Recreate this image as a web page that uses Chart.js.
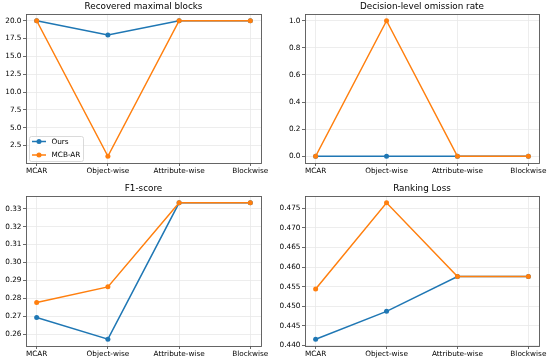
<!DOCTYPE html>
<html>
<head>
<meta charset="utf-8">
<script src="https://cdn.jsdelivr.net/npm/chart.js@4/dist/chart.umd.min.js"></script>
<style>
  html, body { margin: 0; padding: 0; background: #fff; }
  #wrap { position: relative; width: 550px; height: 364px; }
  .cell { position: absolute; width: 275px; height: 182px; }
</style>
</head>
<body>
<div id="wrap">
  <div class="cell" style="left:0;top:0"><canvas id="c1"></canvas></div>
  <div class="cell" style="left:275px;top:0"><canvas id="c2"></canvas></div>
  <div class="cell" style="left:0;top:182px"><canvas id="c3"></canvas></div>
  <div class="cell" style="left:275px;top:182px"><canvas id="c4"></canvas></div>
</div>
<script>
// categories shared by all four panels
const categories = ["MCAR", "Object-wise", "Attribute-wise", "Blockwise"];
const seriesNames = ["Ours", "MCB-AR"];

// panel data
const blocksOurs = [20, 18, 20, 20];
const blocksMcb = [20, 1, 20, 20];
const omissionOurs = [0, 0, 0, 0];
const omissionMcb = [0, 1, 0, 0];
const f1Ours = [0.2693, 0.2572, 0.3333, 0.3333];
const f1Mcb = [0.2777, 0.2864, 0.3333, 0.3333];
const rankOurs = [0.4416, 0.4487, 0.4576, 0.4576];
const rankMcb = [0.4544, 0.4764, 0.4576, 0.4576];

// y tick labels
const blocksTicks = [2.5, 5.0, 7.5, 10.0, 12.5, 15.0, 17.5, 20.0];
const omissionTicks = [0.0, 0.2, 0.4, 0.6, 0.8, 1.0];
const f1Ticks = [0.26, 0.27, 0.28, 0.29, 0.30, 0.31, 0.32, 0.33];
const rankTicks = [0.440, 0.445, 0.450, 0.455, 0.460, 0.465, 0.470, 0.475];

const BLUE = "#1f77b4", ORANGE = "#ff7f0e";
const FONT = "'DejaVu Sans', sans-serif";

// draw all four spines like matplotlib
const spines = {
  id: "spines",
  afterDatasetsDraw(chart) {
    const { ctx, chartArea: a } = chart;
    ctx.save();
    ctx.strokeStyle = "#555";
    ctx.lineWidth = 0.9;
    ctx.strokeRect(Math.round(a.left) + 0.5, Math.round(a.top) + 0.5,
      Math.round(a.right - a.left), Math.round(a.bottom - a.top));
    ctx.restore();
  }
};

// title centred over the axes, not the canvas
const axesTitle = {
  id: "axesTitle",
  afterDraw(chart, args, opts) {
    const { ctx, chartArea: a } = chart;
    ctx.save();
    ctx.fillStyle = "#000";
    ctx.font = "8.8px " + FONT;
    ctx.textAlign = "center";
    ctx.textBaseline = "middle";
    ctx.fillText(opts.text, (a.left + a.right) / 2, a.top - 7);
    ctx.restore();
  }
};

// lower-left legend inside the axes (first panel only)
const innerLegend = {
  id: "innerLegend",
  afterDraw(chart, args, opts) {
    if (!opts.show) return;
    const { ctx, chartArea: a } = chart;
    const x = a.left + 3, h = 25, w = 54, y = a.bottom - 2 - h;
    ctx.save();
    ctx.beginPath();
    ctx.roundRect(x + 0.5, y + 0.5, w, h, 2);
    ctx.fillStyle = "rgba(255,255,255,0.8)";
    ctx.fill();
    ctx.strokeStyle = "#d0d0d0";
    ctx.lineWidth = 0.8;
    ctx.stroke();
    const colors = [BLUE, ORANGE];
    seriesNames.forEach((name, i) => {
      const yy = y + 5.5 + i * 13.5;
      ctx.strokeStyle = colors[i];
      ctx.lineWidth = 1.5;
      ctx.beginPath();
      ctx.moveTo(x + 3, yy);
      ctx.lineTo(x + 17, yy);
      ctx.stroke();
      ctx.fillStyle = colors[i];
      ctx.beginPath();
      ctx.arc(x + 10, yy, 2.5, 0, Math.PI * 2);
      ctx.fill();
      ctx.fillStyle = "#000";
      ctx.font = "7.3px " + FONT;
      ctx.textBaseline = "middle";
      ctx.fillText(name, x + 22.5, yy + 0.5);
    });
    ctx.restore();
  }
};

function makePanel(id, title, ours, mcb, ticks, yMin, yMax, digits, area, legend) {
  const toPts = (arr) => arr.map((v, i) => ({ x: i, y: v }));
  const ds = (label, arr, color, order) => ({
    label, data: toPts(arr), borderColor: color, backgroundColor: color,
    borderWidth: 1.5, pointRadius: 2.5, pointBorderWidth: 0, pointBackgroundColor: color,
    tension: 0, order
  });
  new Chart(document.getElementById(id), {
    type: "line",
    data: { datasets: [ds(seriesNames[0], ours, BLUE, 1), ds(seriesNames[1], mcb, ORANGE, 0)] },
    options: {
      responsive: true,
      maintainAspectRatio: false,
      animation: false,
      events: [],
      layout: { padding: { left: 0, right: 275 - area.right, top: area.top, bottom: 0 } },
      plugins: {
        legend: { display: false },
        tooltip: { enabled: false },
        title: { display: false },
        axesTitle: { text: title },
        innerLegend: { show: legend }
      },
      scales: {
        x: {
          type: "linear", min: -0.15, max: 3.15,
          afterBuildTicks: (s) => { s.ticks = categories.map((_, i) => ({ value: i })); },
          afterFit: (s) => { s.height = 182 - area.bottom; },
          ticks: {
            callback: (v) => categories[v], color: "#000", padding: 1,
            maxRotation: 0, autoSkip: false, font: { family: FONT, size: 7.3 }
          },
          grid: { color: "#e8e8e8", lineWidth: 0.8, tickColor: "#444", tickLength: 3 },
          border: { display: false }
        },
        y: {
          min: yMin, max: yMax,
          afterBuildTicks: (s) => { s.ticks = ticks.map((v) => ({ value: v })); },
          afterFit: (s) => { s.width = area.left; },
          ticks: {
            callback: (v) => Number(v).toFixed(digits), color: "#000", padding: 1.5,
            font: { family: FONT, size: 7.3 }
          },
          grid: { color: "#e8e8e8", lineWidth: 0.8, tickColor: "#444", tickLength: 3 },
          border: { display: false }
        }
      }
    },
    plugins: [spines, axesTitle, innerLegend]
  });
}

makePanel("c1", "Recovered maximal blocks", blocksOurs, blocksMcb, blocksTicks, 0.05, 20.95, 1,
  { left: 26, right: 261, top: 14, bottom: 163 }, true);
makePanel("c2", "Decision-level omission rate", omissionOurs, omissionMcb, omissionTicks, -0.05, 1.05, 1,
  { left: 30, right: 264, top: 14, bottom: 163 }, false);
makePanel("c3", "F1-score", f1Ours, f1Mcb, f1Ticks, 0.2534, 0.3371, 2,
  { left: 26, right: 261, top: 14, bottom: 164 }, false);
makePanel("c4", "Ranking Loss", rankOurs, rankMcb, rankTicks, 0.43986, 0.47814, 3,
  { left: 30, right: 264, top: 14, bottom: 164 }, false);
</script>
</body>
</html>
